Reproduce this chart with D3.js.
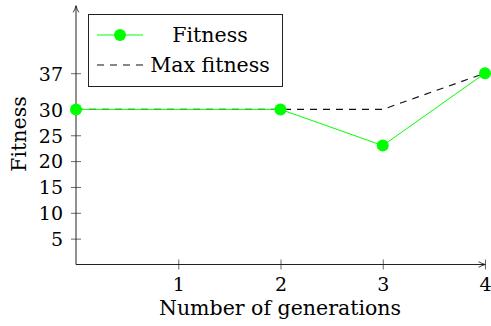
<!DOCTYPE html>
<html>
<head>
<meta charset="utf-8">
<script src="https://cdn.jsdelivr.net/npm/d3@7"></script>
<style>
  html, body { margin: 0; padding: 0; background: #fff; }
  svg text { font-family: "DejaVu Serif", serif; fill: #000; }
</style>
</head>
<body>
<svg id="chart" width="491" height="326"></svg>
<script>
// Generations and the two fitness series
const generations = [0, 2, 3, 4];
const fitness = [30, 30, 23, 37];
const maxFitness = [30, 30, 30, 37];
const xTicks = [1, 2, 3, 4];
const yTicks = [5, 10, 15, 20, 25, 30, 37];

const svg = d3.select("#chart");
const x = d3.scaleLinear().domain([0, 4]).range([76, 485]);
const y = d3.scaleLinear().domain([0, 50]).range([264.5, 6]);

// Arrow head for axis ends
svg.append("defs").append("marker")
  .attr("id", "arrow").attr("viewBox", "0 0 10 10")
  .attr("refX", 9).attr("refY", 5)
  .attr("markerWidth", 8).attr("markerHeight", 8)
  .attr("orient", "auto-start-reverse")
  .append("path").attr("d", "M1,1.5 Q5,4 9.5,5 Q5,6 1,8.5")
  .attr("fill", "none").attr("stroke", "#222").attr("stroke-width", 1.1);

const tickSize = 19;
const labelSize = 20.5;
const fmt = d3.format("d");

// X axis
const xAxis = svg.append("g").attr("transform", `translate(0,${y(0)})`)
  .call(d3.axisBottom(x).tickValues(xTicks).tickFormat(fmt).tickSize(0).tickPadding(0))
  .attr("font-family", null).attr("font-size", null);
xAxis.select(".domain").remove();
xAxis.selectAll(".tick line").remove();
xAxis.selectAll(".tick").append("line")
  .attr("y1", -5).attr("y2", 5).attr("stroke", "#444").attr("stroke-width", 0.8);
xAxis.selectAll(".tick text")
  .attr("y", 26.5).attr("dy", null)
  .style("font-size", tickSize + "px")
  .attr("fill", "#000");
svg.append("line")
  .attr("x1", x(0)).attr("x2", x(4)).attr("y1", y(0)).attr("y2", y(0))
  .attr("stroke", "#222").attr("stroke-width", 1)
  .attr("marker-end", "url(#arrow)");

// Y axis
const yAxis = svg.append("g").attr("transform", `translate(${x(0)},0)`)
  .call(d3.axisLeft(y).tickValues(yTicks).tickFormat(fmt).tickSize(0).tickPadding(0))
  .attr("font-family", null).attr("font-size", null);
yAxis.select(".domain").remove();
yAxis.selectAll(".tick line").remove();
yAxis.selectAll(".tick").append("line")
  .attr("x1", -5).attr("x2", 5).attr("stroke", "#444").attr("stroke-width", 0.8);
yAxis.selectAll(".tick text")
  .attr("x", -13).attr("dy", "0.36em")
  .style("font-size", tickSize + "px")
  .attr("fill", "#000");
svg.append("line")
  .attr("x1", x(0)).attr("x2", x(0)).attr("y1", y(0)).attr("y2", y(50))
  .attr("stroke", "#222").attr("stroke-width", 1)
  .attr("marker-end", "url(#arrow)");

// Axis titles
svg.append("text")
  .attr("x", 280).attr("y", 315).attr("text-anchor", "middle")
  .style("font-size", labelSize + "px").text("Number of generations");
svg.append("text")
  .attr("transform", `translate(26,134) rotate(-90)`)
  .attr("text-anchor", "middle")
  .style("font-size", labelSize + "px").text("Fitness");

const line = d3.line().x((d, i) => x(generations[i])).y(d => y(d));

// Max fitness (dashed)
svg.append("path").datum(maxFitness)
  .attr("d", line).attr("fill", "none")
  .attr("stroke", "#111").attr("stroke-width", 1.1)
  .attr("stroke-dasharray", "7,6");

// Fitness with markers
svg.append("path").datum(fitness)
  .attr("d", line).attr("fill", "none")
  .attr("stroke", "#00ff00").attr("stroke-width", 1);
svg.selectAll("circle.pt").data(fitness).enter().append("circle")
  .attr("class", "pt")
  .attr("cx", (d, i) => x(generations[i])).attr("cy", d => y(d))
  .attr("r", 6).attr("fill", "#00ff00");

// Legend
const lg = svg.append("g");
lg.append("rect").attr("x", 88.5).attr("y", 14.5).attr("width", 194).attr("height", 72)
  .attr("fill", "#fff").attr("stroke", "#222").attr("stroke-width", 1);
lg.append("line").attr("x1", 97).attr("x2", 143).attr("y1", 35).attr("y2", 35)
  .attr("stroke", "#00ff00").attr("stroke-width", 1);
lg.append("circle").attr("cx", 120).attr("cy", 35).attr("r", 6).attr("fill", "#00ff00");
lg.append("line").attr("x1", 97).attr("x2", 143).attr("y1", 65).attr("y2", 65)
  .attr("stroke", "#111").attr("stroke-width", 1.1).attr("stroke-dasharray", "7,6");
lg.append("text").attr("x", 210).attr("y", 41.5).attr("text-anchor", "middle")
  .style("font-size", labelSize + "px").text("Fitness");
lg.append("text").attr("x", 210).attr("y", 71.5).attr("text-anchor", "middle")
  .style("font-size", labelSize + "px").text("Max fitness");
</script>
</body>
</html>
